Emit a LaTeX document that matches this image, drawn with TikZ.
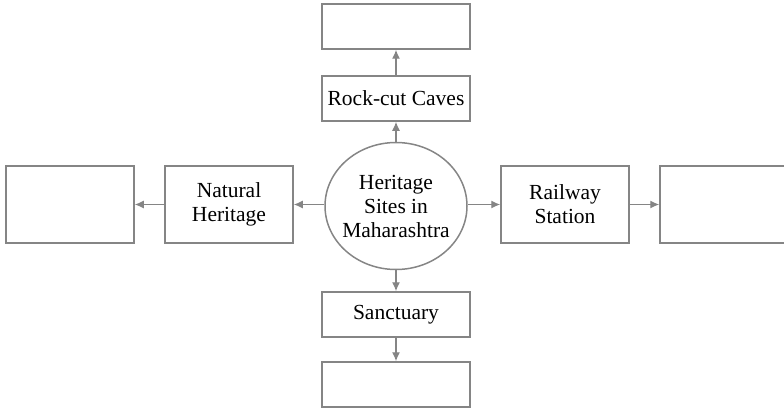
\documentclass[tikz,border=0pt]{standalone}
\usepackage{fontspec}
\setmainfont{Liberation Serif}
\usetikzlibrary{arrows.meta, shapes.geometric}
\definecolor{linegray}{rgb}{0.52,0.52,0.52}
\tikzset{box/.style={draw=linegray, line width=1.5pt, minimum width=148pt, minimum height=45pt, inner sep=0pt, align=center, font=\fontsize{21.5}{24}\selectfont}}
\tikzset{sidebox/.style={box, minimum width=128pt, minimum height=77pt}}
\tikzset{hub/.style={box, ellipse, inner xsep=-8pt, minimum width=142pt, minimum height=127pt}}
\tikzset{link/.style={draw=linegray, line width=1.3pt, -{Latex[length=9pt, width=8pt]}}}

\begin{document}
\begin{tikzpicture}[x=1pt, y=-1pt]
\path [use as bounding box] (0,0) rectangle (784,412);
\node [hub] (hub) at (396,206) {Heritage\\Sites in\\Maharashtra};
\node [box] (caves) at (396,98.5) {Rock-cut Caves};
\node [box] (top) at (396,26.5) {};
\node [box] (sanct) at (396,314.5) {Sanctuary};
\node [box] (bottom) at (396,384.5) {};
\node [sidebox] (natural) at (229,204.5) {Natural\\Heritage};
\node [sidebox] (far left) at (70,204.5) {};
\node [sidebox] (railway) at (565,204.5) {Railway\\Station};
\node [sidebox] (far right) at (724,204.5) {};
\draw [link] (hub) -- (caves);
\draw [link] (caves) -- (top);
\draw [link] (hub) -- (sanct);
\draw [link] (sanct) -- (bottom);
\draw [link] (hub.west |- natural) -- (natural);
\draw [link] (natural) -- (far left);
\draw [link] (hub.east |- railway) -- (railway);
\draw [link] (railway) -- (far right);
\end{tikzpicture}
\end{document}
